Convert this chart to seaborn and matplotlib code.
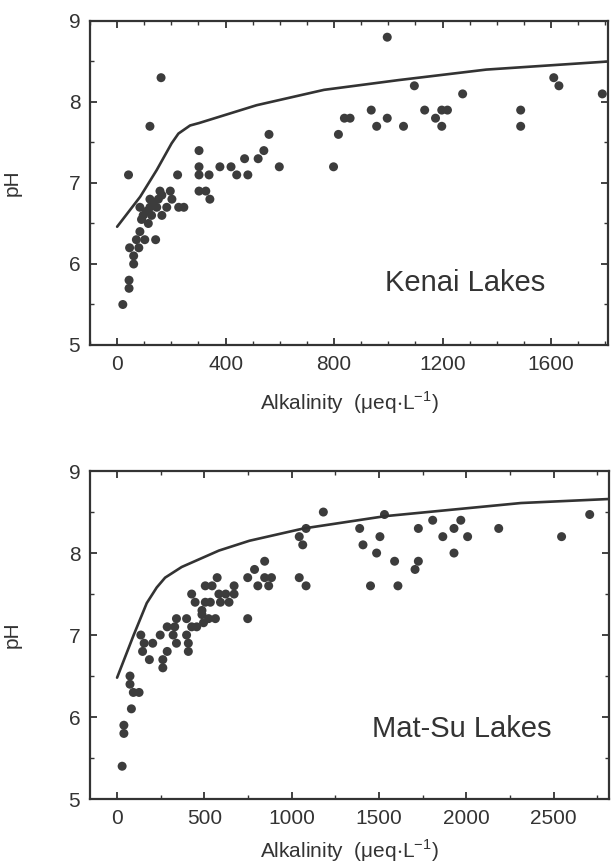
import matplotlib
matplotlib.use('Agg')
import matplotlib.pyplot as plt
import seaborn as sns
import pandas as pd
from matplotlib.ticker import MultipleLocator

# Kenai lakes (top panel)
kenai_alk = [996, 162, 121, 42, 21, 44, 44, 61, 61, 46, 80, 71, 102, 142, 84, 115, 90, 96, 127, 165,
             108, 146, 84, 121, 183, 133, 121, 152, 165, 158, 196, 202, 227, 246, 223, 302, 302, 302,
             339, 302, 327, 342, 379, 420, 441, 470, 482, 520, 541, 560, 598, 798, 816, 838, 859,
             937, 957, 996, 1056, 1096, 1134, 1174, 1197, 1218, 1197, 1274, 1488, 1488, 1610, 1629, 1789]
kenai_ph = [8.8, 8.3, 7.7, 7.1, 5.5, 5.8, 5.7, 6.0, 6.1, 6.2, 6.2, 6.3, 6.3, 6.3, 6.4, 6.5, 6.55, 6.6, 6.6, 6.6,
            6.65, 6.7, 6.7, 6.7, 6.7, 6.75, 6.8, 6.8, 6.85, 6.9, 6.9, 6.8, 6.7, 6.7, 7.1, 7.4, 7.2, 7.1,
            7.1, 6.9, 6.9, 6.8, 7.2, 7.2, 7.1, 7.3, 7.1, 7.3, 7.4, 7.6, 7.2, 7.2, 7.6, 7.8, 7.8,
            7.9, 7.7, 7.8, 7.7, 8.2, 7.9, 7.8, 7.9, 7.9, 7.7, 8.1, 7.9, 7.7, 8.3, 8.2, 8.1]
kenai_curve_alk = [0, 85, 146, 201, 226, 269, 302, 514, 763, 1037, 1361, 1810]
kenai_curve_ph = [6.46, 6.83, 7.16, 7.49, 7.61, 7.71, 7.74, 7.96, 8.15, 8.27, 8.40, 8.50]

# Mat-Su lakes (bottom panel)
matsu_alk = [1181, 1531, 2706, 1082, 1043, 1063, 1389, 1505, 1408, 1486, 1725, 1807, 1865, 1929, 1968,
             2007, 1929, 2185, 2545, 1589, 1725, 1706, 1451, 1608, 1043, 1082, 845, 787, 748, 806, 845,
             884, 868, 748, 573, 505, 544, 670, 427, 583, 622, 670, 447, 505, 534, 592, 641, 486, 524,
             563, 486, 495, 456, 427, 340, 398, 287, 330, 321, 398, 247, 340, 408, 408, 287, 262, 262,
             136, 155, 204, 146, 185, 74, 74, 93, 126, 82, 39, 39, 29]
matsu_ph = [8.5, 8.47, 8.47, 8.3, 8.2, 8.1, 8.3, 8.2, 8.1, 8.0, 8.3, 8.4, 8.2, 8.3, 8.4,
            8.2, 8.0, 8.3, 8.2, 7.9, 7.9, 7.8, 7.6, 7.6, 7.7, 7.6, 7.9, 7.8, 7.7, 7.6, 7.7,
            7.7, 7.6, 7.2, 7.7, 7.6, 7.6, 7.6, 7.5, 7.5, 7.5, 7.5, 7.4, 7.4, 7.4, 7.4, 7.4, 7.3, 7.2,
            7.2, 7.25, 7.15, 7.1, 7.1, 7.2, 7.2, 7.1, 7.1, 7.0, 7.0, 7.0, 6.9, 6.9, 6.8, 6.8, 6.7, 6.6,
            7.0, 6.9, 6.9, 6.8, 6.7, 6.5, 6.4, 6.3, 6.3, 6.1, 5.9, 5.8, 5.4]
matsu_curve_alk = [0, 95, 170, 227, 275, 370, 583, 758, 1068, 1535, 1923, 2312, 2826]
matsu_curve_ph = [6.48, 7.0, 7.39, 7.58, 7.70, 7.83, 8.03, 8.15, 8.30, 8.45, 8.53, 8.61, 8.66]

sns.set_style('ticks')
plt.rcParams['font.family'] = ['Liberation Sans', 'DejaVu Sans']
ink = '#333333'

fig = plt.figure(figsize=(6.11, 8.64), dpi=100)
ax1 = fig.add_axes([0.1473, 0.6007, 0.8478, 0.375])
ax2 = fig.add_axes([0.1473, 0.0752, 0.849, 0.3796])

panels = [
    (ax1, kenai_alk, kenai_ph, kenai_curve_alk, kenai_curve_ph, 'Kenai Lakes', (-100, 1810), 400, 100, (0.57, 0.167)),
    (ax2, matsu_alk, matsu_ph, matsu_curve_alk, matsu_curve_ph, 'Mat-Su Lakes', (-155, 2815), 500, 250, (0.543, 0.19)),
]

for ax, alk, ph, c_alk, c_ph, name, xlim, major, minor, txt in panels:
    pts = pd.DataFrame({'alk': alk, 'ph': ph})
    curve = pd.DataFrame({'alk': c_alk, 'ph': c_ph})
    sns.scatterplot(data=pts, x='alk', y='ph', ax=ax, color='#3c3c3c', s=42, edgecolor='none', clip_on=False)
    sns.lineplot(data=curve, x='alk', y='ph', ax=ax, color=ink, linewidth=1.9, sort=False)
    ax.set_xlim(*xlim)
    ax.set_ylim(5, 9)
    ax.xaxis.set_major_locator(MultipleLocator(major))
    ax.xaxis.set_minor_locator(MultipleLocator(minor))
    ax.yaxis.set_major_locator(MultipleLocator(1))
    ax.yaxis.set_minor_locator(MultipleLocator(0.5))
    ax.tick_params(which='both', direction='in', top=True, right=True, color=ink,
                   labelsize=15, labelcolor=ink, pad=7)
    ax.tick_params(which='major', length=5, width=1.3)
    ax.tick_params(which='minor', length=3, width=1.0)
    for sp in ax.spines.values():
        sp.set_linewidth(1.6)
        sp.set_color(ink)
    ax.set_ylabel('pH', fontsize=15, color=ink)
    ax.yaxis.set_label_coords(-0.131, 0.5)
    ax.set_xlabel(r'Alkalinity  ($\mathregular{\mu}$eq$\mathregular{\cdot}$L$^{\mathregular{-1}}$)',
                  fontsize=15, color=ink)
    ax.text(txt[0], txt[1], name, transform=ax.transAxes, fontsize=21, color=ink, va='baseline')

ax1.xaxis.set_label_coords(0.5, -0.136)
ax2.xaxis.set_label_coords(0.5, -0.117)

plt.savefig('out.png', dpi=100)
